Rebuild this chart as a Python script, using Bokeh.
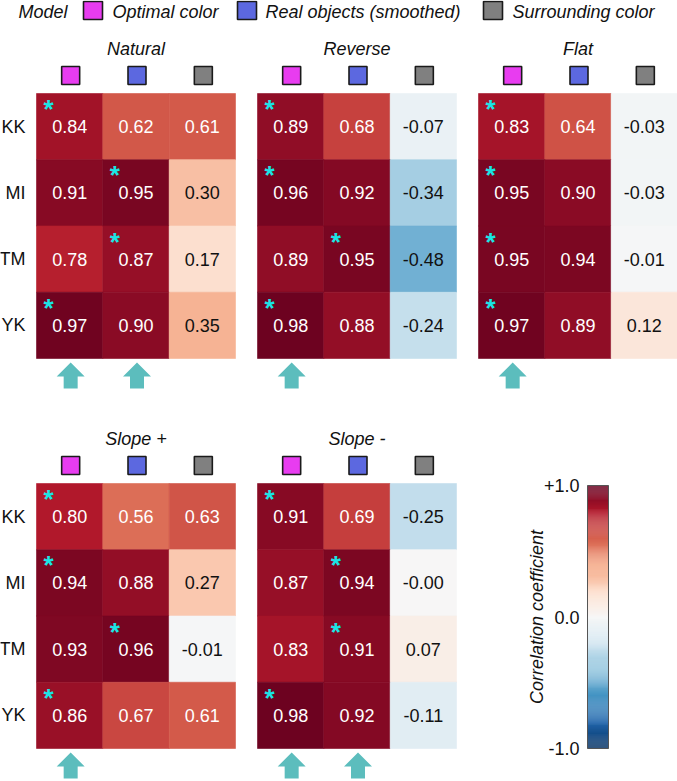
import numpy as np
from bokeh.plotting import figure
from bokeh.models import Range1d, ColumnDataSource
from bokeh.transform import linear_cmap
from bokeh.core.properties import value
from bokeh.embed import file_html
from bokeh.resources import INLINE
from bokeh.palettes import RdBu11

# ---------------- data ----------------
subjects = ["KK", "MI", "TM", "YK"]
models = ["Optimal color", "Real objects (smoothed)", "Surrounding color"]
model_colors = ["#e83cf0", "#5c68e0", "#808080"]
conditions = ["Natural", "Reverse", "Flat", "Slope +", "Slope -"]

natural = [[0.84, 0.62, 0.61], [0.91, 0.95, 0.30], [0.78, 0.87, 0.17], [0.97, 0.90, 0.35]]
reverse = [[0.89, 0.68, -0.07], [0.96, 0.92, -0.34], [0.89, 0.95, -0.48], [0.98, 0.88, -0.24]]
flat = [[0.83, 0.64, -0.03], [0.95, 0.90, -0.03], [0.95, 0.94, -0.01], [0.97, 0.89, 0.12]]
slope_plus = [[0.80, 0.56, 0.63], [0.94, 0.88, 0.27], [0.93, 0.96, -0.01], [0.86, 0.67, 0.61]]
slope_minus = [[0.91, 0.69, -0.25], [0.87, 0.94, -0.0], [0.83, 0.91, 0.07], [0.98, 0.92, -0.11]]

# model (column) marked with an asterisk for each subject
natural_best = [0, 1, 1, 0]
reverse_best = [0, 0, 1, 0]
flat_best = [0, 0, 0, 0]
slope_plus_best = [0, 0, 1, 0]
slope_minus_best = [0, 1, 1, 0]

# models marked with an arrow under each panel
natural_arrows = [0, 1]
reverse_arrows = [0]
flat_arrows = [0]
slope_plus_arrows = [0]
slope_minus_arrows = [0, 1]

cbar_ticks = [1.0, 0.0, -1.0]
cbar_tick_labels = ["+1.0", "0.0", "-1.0"]
cbar_title = "Correlation coefficient"

panel_values = [natural, reverse, flat, slope_plus, slope_minus]
panel_best = [natural_best, reverse_best, flat_best, slope_plus_best, slope_minus_best]
panel_arrows = [natural_arrows, reverse_arrows, flat_arrows, slope_plus_arrows, slope_minus_arrows]

# ---------------- layout ----------------
FONT = value("Liberation Sans")
W, H = 677, 781
panel_left = [36, 257, 478, 36, 257]
panel_top = [93, 93, 93, 483, 483]
CW = 199 / 3.0
CH = 265 / 4.0
ARROW_COLOR = "#5cbdbd"
STAR_COLOR = "#19e6e6"


def interp(pal, n):
    rgb = np.array([[int(c[i:i + 2], 16) for i in (1, 3, 5)] for c in pal], dtype=float)
    t = np.linspace(0, 1, len(pal))
    tt = np.linspace(0, 1, n)
    out = []
    for k in tt:
        r, g, b = (np.interp(k, t, rgb[:, m]) for m in range(3))
        out.append("#%02x%02x%02x" % (int(round(r)), int(round(g)), int(round(b))))
    return out


# RdBu11 in Bokeh runs blue -> red, so low values (-1) map to blue
palette = interp(list(RdBu11), 256)

p = figure(width=W, height=H, x_range=Range1d(0, W), y_range=Range1d(H, 0),
           x_axis_type=None, y_axis_type=None, output_backend="svg",
           toolbar_location=None, min_border=0)
p.grid.visible = False
p.outline_line_color = None
p.background_fill_color = "white"
p.border_fill_color = "white"

# ---------------- legend ----------------
p.text(x=[18], y=[11], text=["Model"], text_font=FONT, text_font_size="18px",
       text_font_style="italic", text_baseline="middle", text_align="left", text_color="#111111")
leg_sq_x = [92.5, 246.5, 492.5]
leg_txt_x = [112, 265, 512]
p.rect(x=leg_sq_x, y=[10] * 3, width=19, height=18, fill_color=model_colors,
       line_color="#1a1a1a", line_width=1.6)
p.text(x=leg_txt_x, y=[11] * 3, text=models, text_font=FONT, text_font_size="18px",
       text_font_style="italic", text_baseline="middle", text_align="left", text_color="#111111")

mapper = linear_cmap("v", palette, -1, 1)

for k, cond in enumerate(conditions):
    left, top = panel_left[k], panel_top[k]
    vals = panel_values[k]
    xs, ys, vs, labels, tcol = [], [], [], [], []
    for i in range(len(subjects)):
        for j in range(len(models)):
            v = vals[i][j]
            xs.append(left + (j + 0.5) * CW)
            ys.append(top + (i + 0.5) * CH)
            vs.append(v)
            labels.append(f"{v:.2f}")
            tcol.append("white" if abs(v) > 0.5 else "#111111")
    src = ColumnDataSource(dict(x=xs, y=ys, v=vs, label=labels, tc=tcol))
    p.rect(x="x", y="y", width=CW, height=CH, source=src, fill_color=mapper,
           line_color=mapper, line_width=0.6)
    p.text(x="x", y="y", text="label", source=src, text_font=FONT, text_font_size="18px",
           text_color="tc", text_align="center", text_baseline="middle")

    # title
    p.text(x=[left + 1.5 * CW], y=[top - 45], text=[cond], text_font=FONT,
           text_font_size="18px", text_font_style="italic", text_align="center",
           text_baseline="middle", text_color="#111111")
    # model squares above columns
    p.rect(x=[left + (j + 0.5) * CW + 1 for j in range(len(models))], y=[top - 18] * 3,
           width=18, height=18, fill_color=model_colors, line_color="#1a1a1a", line_width=1.6)
    # subject labels on left panels
    if left == panel_left[0]:
        p.text(x=[left - 11] * len(subjects), y=[top + (i + 0.5) * CH for i in range(len(subjects))],
               text=subjects, text_font=FONT, text_font_size="18px", text_align="right",
               text_baseline="middle", text_color="#111111")
    # asterisks
    best = panel_best[k]
    p.text(x=[left + b * CW + 12 for b in best],
           y=[top + i * CH + 15.5 for i in range(len(best))],
           text=["*"] * len(best), text_font=FONT, text_font_size="26px", text_font_style="bold",
           text_color=STAR_COLOR, text_align="center", text_baseline="alphabetic")
    # arrows
    bottom = top + len(subjects) * CH
    axs, ays = [], []
    for j in panel_arrows[k]:
        c = left + (j + 0.5) * CW + 1
        t = bottom + 4
        axs.append([c - 14, c, c + 14, c + 7, c + 7, c - 7, c - 7])
        ays.append([t + 14, t, t + 14, t + 14, t + 26, t + 26, t + 14])
    p.patches(xs=axs, ys=ays, fill_color=ARROW_COLOR, line_color=None)

# ---------------- colour bar ----------------
cb_x0, cb_x1 = 587, 608
cb_top, cb_bot = 485, 748
n = len(palette)
cv = np.linspace(-1, 1, n)
seg = (cb_bot - cb_top) / n
cy = [cb_bot - (k + 0.5) * seg for k in range(n)]
csrc = ColumnDataSource(dict(x=[(cb_x0 + cb_x1) / 2] * n, y=cy, v=list(cv)))
p.rect(x="x", y="y", width=cb_x1 - cb_x0, height=seg * 1.15, source=csrc,
       fill_color=mapper, line_color=None)
p.rect(x=[(cb_x0 + cb_x1) / 2], y=[(cb_top + cb_bot) / 2], width=cb_x1 - cb_x0,
       height=cb_bot - cb_top, fill_color=None, line_color="#555555", line_width=1)
tick_y = [cb_bot - (t + 1) / 2 * (cb_bot - cb_top) for t in cbar_ticks]
p.text(x=[579] * 3, y=tick_y, text=cbar_tick_labels, text_font=FONT, text_font_size="18px",
       text_align="right", text_baseline="middle", text_color="#111111")
p.text(x=[536], y=[(cb_top + cb_bot) / 2], text=[cbar_title], angle=np.pi / 2,
       text_font=FONT, text_font_size="18px", text_font_style="italic",
       text_align="center", text_baseline="middle", text_color="#111111")

open("out.html", "w").write(file_html(p, INLINE))
